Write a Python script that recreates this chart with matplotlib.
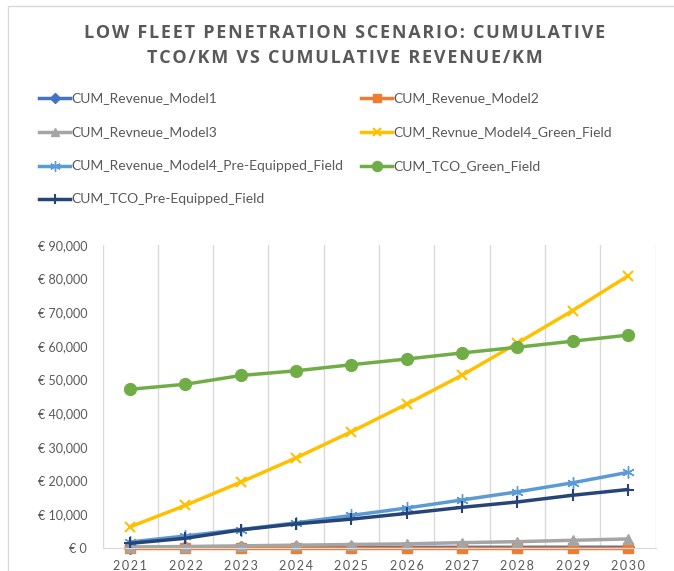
import matplotlib
matplotlib.use("Agg")
import matplotlib.pyplot as plt
from matplotlib.lines import Line2D
from matplotlib.patches import Rectangle
from matplotlib.ticker import FuncFormatter

years = ["2021", "2022", "2023", "2024", "2025", "2026", "2027", "2028", "2029", "2030"]
rev_model1 = [50, 60, 70, 80, 90, 100, 110, 120, 130, 140]
rev_model2 = [0, 0, 0, 0, 0, 0, 0, 0, 0, 0]
rev_model3 = [200, 350, 550, 750, 950, 1150, 1500, 1800, 2200, 2600]
rev_model4_green = [6200, 12600, 19500, 26700, 34500, 42700, 51300, 60800, 70500, 80800]
rev_model4_pre = [1700, 3500, 5400, 7400, 9600, 11800, 14200, 16600, 19300, 22400]
tco_green = [47100, 48600, 51200, 52600, 54400, 56100, 57900, 59600, 61400, 63200]
tco_pre = [1300, 2800, 5300, 7100, 8500, 10200, 12000, 13600, 15600, 17300]

series = [
    ("CUM_Revenue_Model1", rev_model1, "#4472C4", "D", 6),
    ("CUM_Revenue_Model2", rev_model2, "#ED7D31", "s", 7),
    ("CUM_Revneue_Model3", rev_model3, "#A5A5A5", "^", 7),
    ("CUM_Revnue_Model4_Green_Field", rev_model4_green, "#FFC000", "x", 7),
    ("CUM_Revenue_Model4_Pre-Equipped_Field", rev_model4_pre, "#5B9BD5", (6, 2, 0), 9),
    ("CUM_TCO_Green_Field", tco_green, "#70AD47", "o", 8.5),
    ("CUM_TCO_Pre-Equipped_Field", tco_pre, "#264478", "+", 8),
]

W, H = 674, 571
fig = plt.figure(figsize=(W / 100, H / 100), dpi=100)
txt = "#595959"
HS = "\u200a"
TS = "\u2009"

def fx(px):
    return px / W

def fy(py):
    return 1 - py / H

def spaced(s, sep=HS):
    return sep.join(s)

# chart border
fig.patches.append(Rectangle((fx(8), fy(580)), fx(700), fy(6) - fy(580),
                             transform=fig.transFigure, fill=False,
                             edgecolor="#d9d9d9", linewidth=1))

# title
fig.text(fx(345), fy(33), spaced("LOW FLEET PENETRATION SCENARIO: CUMULATIVE"),
         ha="center", va="center", fontsize=13, color=txt,
         family=["Open Sans", "DejaVu Sans"], fontweight="bold")
fig.text(fx(345), fy(58), spaced("TCO/KM VS CUMULATIVE REVENUE/KM"),
         ha="center", va="center", fontsize=13, color=txt,
         family=["Open Sans", "DejaVu Sans"], fontweight="bold")

ax = fig.add_axes([fx(102.5), fy(547.7), fx(655.6) - fx(102.5), fy(245) - fy(547.7)])
x = list(range(len(years)))
for name, vals, col, mk, ms in series:
    ax.plot(x, vals, color=col, marker=mk, markersize=ms, linewidth=2.5,
            markeredgewidth=1.5 if mk in ("x", "+") else 1, label=name,
            solid_capstyle="round", clip_on=False)

ax.set_xlim(-0.5, len(years) - 0.5)
ax.set_ylim(0, 90000)
ax.set_yticks(range(0, 90001, 10000))
ax.yaxis.set_major_formatter(FuncFormatter(lambda v, p: "€ {:,.0f}".format(v)))
ax.set_xticks(x)
ax.set_xticklabels([spaced(y, TS) for y in years])
ax.set_xticks([i + 0.5 for i in range(-1, len(years))], minor=True)
ax.grid(True, axis="x", which="minor", color="#d9d9d9", linewidth=1)
ax.tick_params(axis="both", which="both", length=0)
ax.tick_params(axis="y", labelsize=9, labelcolor=txt, pad=11)
ax.tick_params(axis="x", labelsize=9, labelcolor=txt, pad=9)
for lab in ax.get_xticklabels() + ax.get_yticklabels():
    lab.set_family(["Lato", "DejaVu Sans"])
for s in ["top", "right", "left"]:
    ax.spines[s].set_visible(False)
ax.spines["bottom"].set_color("#d9d9d9")
ax.set_facecolor("none")

# legend (row-major order like the original)
rows_y = [98, 132, 166, 199]
cols_x = [39, 361]
for i, (name, vals, col, mk, ms) in enumerate(series):
    r, c = divmod(i, 2)
    x0 = cols_x[c]
    y0 = rows_y[r]
    fig.add_artist(Line2D([fx(x0), fx(x0 + 31)], [fy(y0), fy(y0)],
                          transform=fig.transFigure, color=col, linewidth=2.5))
    fig.add_artist(Line2D([fx(x0 + 15.5)], [fy(y0)], transform=fig.transFigure,
                          color=col, marker=mk, markersize=ms * 0.85,
                          markeredgewidth=1.5 if mk in ("x", "+") else 1))
    fig.text(fx(x0 + 32), fy(y0), name, ha="left", va="center", fontsize=10,
             color=txt, family=["Lato", "DejaVu Sans"])

fig.savefig("out.png", dpi=100)
